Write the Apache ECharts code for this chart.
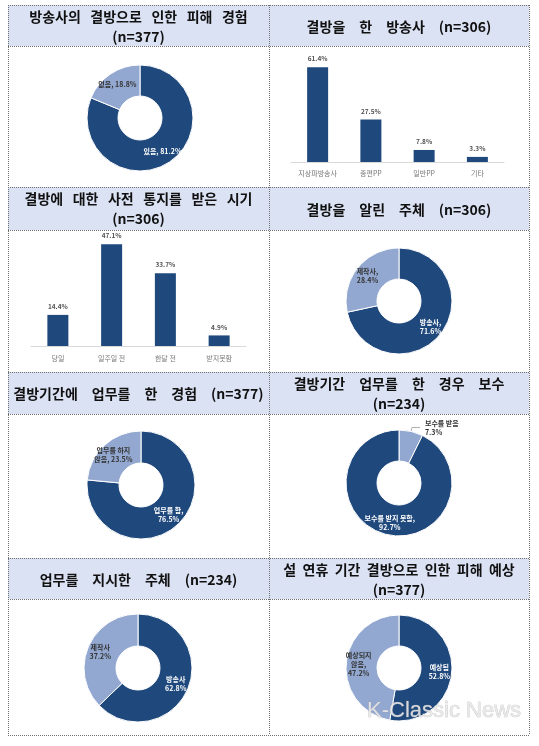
<!DOCTYPE html>
<html><head><meta charset="utf-8">
<script src="https://cdn.jsdelivr.net/npm/echarts@6/dist/echarts.min.js"></script>
<style>html,body{margin:0;padding:0;background:#fff}#c{width:539px;height:746px}</style>
</head><body><div id="c"></div><script>
// ---------- data ----------
const headerTitles = [
  ['방송사의 결방으로 인한 피해 경험', '(n=377)'],
  ['결방을 한 방송사 (n=306)'],
  ['결방에 대한 사전 통지를 받은 시기', '(n=306)'],
  ['결방을 알린 주체 (n=306)'],
  ['결방기간에 업무를 한 경험 (n=377)'],
  ['결방기간 업무를 한 경우 보수', '(n=234)'],
  ['업무를 지시한 주체 (n=234)'],
  ['설 연휴 기간 결방으로 인한 피해 예상', '(n=377)']
];
const broadcasterCats = ['지상파방송사', '종편PP', '일반PP', '기타'];
const broadcasterValues = [61.4, 27.5, 7.8, 3.3];
const noticeCats = ['당일', '일주일 전', '한달 전', '받지못함'];
const noticeValues = [14.4, 47.1, 33.7, 4.9];
const damageNames = ['있음', '없음'];
const damageValues = [81.2, 18.8];
const informerNames = ['방송사', '제작사'];
const informerValues = [71.6, 28.4];
const workNames = ['업무를 함', '업무를 하지\n않음'];
const workValues = [76.5, 23.5];
const payNames = ['보수를 받음', '보수를 받지 못함'];
const payValues = [7.3, 92.7];
const orderNames = ['방송사', '제작사'];
const orderValues = [62.8, 37.2];
const holidayNames = ['예상됨', '예상되지\n않음'];
const holidayValues = [52.8, 47.2];
const watermarkText = 'K-Classic News';

// ---------- layout / style ----------
const DARK = '#1f487c';
const LIGHT = '#93a8d0';
const HEADER_BG = '#dbe2f3';
const FONT = '"Noto Sans CJK KR", "Noto Sans", sans-serif';
const colX = [8, 269, 529];
const rows = [[5, 46, 187], [187, 230, 372], [372, 414, 558], [558, 599, 735]];
const gaps = ['   ', '\u3000', '   ', '\u3000', '\u3000', '\u3000', '\u3000', '  '];

const graphics = [];
rows.forEach((r) => {
  graphics.push({type: 'rect', shape: {x: colX[0], y: r[0], width: colX[2] - colX[0], height: r[1] - r[0]},
    style: {fill: HEADER_BG}, z: 0});
});
function dline(x1, y1, x2, y2) {
  graphics.push({type: 'line', shape: {x1, y1, x2, y2},
    style: {stroke: '#6f6f6f', lineWidth: 1, lineDash: [1, 1]}, z: 1});
}
const hys = [5, 46, 187, 230, 372, 414, 558, 599, 735];
hys.forEach(y => dline(colX[0], y + 0.5, colX[2], y + 0.5));
colX.forEach(x => dline(x + 0.5, 5, x + 0.5, 735));

headerTitles.forEach((lines, i) => {
  const col = i % 2, row = Math.floor(i / 2);
  const cx = (colX[col] + colX[col + 1]) / 2;
  const top = rows[row][0], bot = rows[row][1];
  const g = gaps[i];
  if (lines.length === 1) {
    graphics.push({type: 'text', x: cx, y: (top + bot) / 2 + 1, z: 3,
      style: {text: lines[0].split(' ').join(g), fill: '#111', font: 'bold 14px ' + FONT,
        textAlign: 'center', textVerticalAlign: 'middle'}});
  } else {
    graphics.push({type: 'text', x: cx, y: top + 12, z: 3,
      style: {text: lines[0].split(' ').join(g), fill: '#111', font: 'bold 14px ' + FONT,
        textAlign: 'center', textVerticalAlign: 'middle'}});
    graphics.push({type: 'text', x: cx, y: top + 32, z: 3,
      style: {text: lines[1], fill: '#111', font: 'bold 14px ' + FONT,
        textAlign: 'center', textVerticalAlign: 'middle'}});
  }
});
graphics.push({type: 'text', x: 367, y: 711, z: 50,
  style: {text: watermarkText, fill: 'rgba(232,232,232,0.9)', font: '22px "Liberation Sans", Arial, sans-serif',
    textVerticalAlign: 'middle', stroke: 'rgba(150,150,150,0.6)', lineWidth: 0.6,
    shadowColor: 'rgba(0,0,0,0.45)', shadowBlur: 2, shadowOffsetX: 1, shadowOffsetY: 1}});

function makePie(names, values, center, outerR, fmts, colors, labelPos) {
  return {
    type: 'pie', center, radius: [Math.round(outerR * 0.41), outerR],
    startAngle: 90, clockwise: true, avoidLabelOverlap: false, silent: true,
    itemStyle: {borderColor: '#fff', borderWidth: 1},
    data: names.map((n, k) => ({
      name: n, value: values[k],
      itemStyle: {color: colors[k]},
      label: {show: true, position: labelPos ? labelPos[k] : 'inside', formatter: fmts[k],
        color: colors[k] === DARK ? '#fff' : '#333', fontSize: 7, lineHeight: 9,
        fontFamily: FONT, fontWeight: 'bold'},
      labelLine: {show: labelPos && labelPos[k] === 'outside', length: 4, length2: 8,
        lineStyle: {color: '#999', width: 0.8}}
    }))
  };
}

function barSeries(idx, values) {
  return {
    type: 'bar', xAxisIndex: idx, yAxisIndex: idx, data: values, barWidth: 21,
    itemStyle: {color: DARK}, silent: true,
    label: {show: true, position: 'top', distance: 5, formatter: p => p.value.toFixed(1) + '%',
      fontSize: 6.5, color: '#555', fontWeight: 'bold', fontFamily: FONT}
  };
}

const option = {
  animation: false,
  backgroundColor: '#fff',
  graphic: {elements: graphics},
  grid: [
    {left: 291, top: 54, width: 213, height: 108},
    {left: 31, top: 238, width: 215, height: 108}
  ],
  xAxis: [0, 1].map(i => ({
    type: 'category', gridIndex: i, data: i === 0 ? broadcasterCats : noticeCats,
    axisLine: {lineStyle: {color: '#d9d9d9'}}, axisTick: {show: false},
    axisLabel: {fontSize: 7, color: '#777', margin: i === 0 ? 8 : 9, fontFamily: FONT}
  })),
  yAxis: [
    {type: 'value', gridIndex: 0, min: 0, max: 70, show: false},
    {type: 'value', gridIndex: 1, min: 0, max: 50, show: false}
  ],
  series: [
    barSeries(0, broadcasterValues),
    barSeries(1, noticeValues),
    makePie(damageNames, damageValues, [140, 118], 53, ['{b}, {c}%', '{b}, {c}%'], [DARK, LIGHT]),
    makePie(informerNames, informerValues, [399, 301], 53, ['{b},\n{c}%', '{b},\n{c}%'], [DARK, LIGHT]),
    makePie(workNames, workValues, [141, 485], 54, ['{b},\n{c}%', '{b}, {c}%'], [DARK, LIGHT]),
    makePie(payNames, payValues, [399, 483], 53, ['{b}\n{c}%', '{b},\n{c}%'], [LIGHT, DARK], ['outside', 'inside']),
    makePie(orderNames, orderValues, [138, 668], 54, ['{b}\n{c}%', '{b}\n{c}%'], [DARK, LIGHT]),
    makePie(holidayNames, holidayValues, [399, 668], 53, ['{b}\n{c}%', '{b},\n{c}%'], [DARK, LIGHT])
  ]
};
const chart = echarts.init(document.getElementById('c'), null, {renderer: 'canvas'});
chart.setOption(option);
</script></body></html>
